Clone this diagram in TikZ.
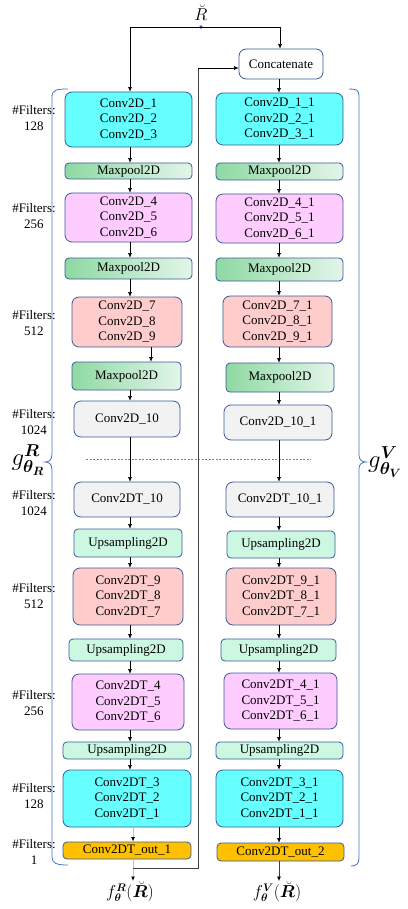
\documentclass[tikz,border=0pt]{standalone}
\usepackage{amsmath}
\usepackage{bm}
\usepackage[no-math]{fontspec}
\setmainfont{Liberation Serif}
\usetikzlibrary{arrows.meta}
\definecolor{bordc}{HTML}{3A5A98}
\definecolor{bracec}{HTML}{4472C4}
\definecolor{cyanc}{HTML}{66FFFF}
\definecolor{pinkc}{HTML}{FFCCFF}
\definecolor{salmc}{HTML}{FFCCCC}
\definecolor{grayc}{HTML}{F2F2F2}
\definecolor{mintc}{HTML}{CCF8E2}
\definecolor{orc}{HTML}{FFC000}
\definecolor{mpdark}{HTML}{8ED9A2}
\definecolor{mplight}{HTML}{E3F5EA}
\definecolor{loopc}{HTML}{3F3F3F}
\definecolor{lgray}{HTML}{BFBFBF}
\tikzset{
  blk/.style={draw=bordc, line width=0.8pt, rounded corners=7pt, align=center, inner sep=0pt, font=\fontsize{13}{15.5}\selectfont},
  big/.style={blk, fill=#1},
  mpool/.style={blk, rounded corners=4pt, left color=mpdark, right color=mplight},
  ups/.style={blk, rounded corners=4pt, fill=mintc},
  outb/.style={blk, rounded corners=4pt, fill=orc},
  arr/.style={-{Latex[length=4.5pt,width=4pt]}, line width=0.5pt, black},
  garr/.style={-{Latex[length=4.5pt,width=4pt,color=black]}, line width=0.9pt, lgray},
  darr/.style={-{Latex[length=4.5pt,width=4pt,color=black]}, line width=0.7pt, loopc},
  loopl/.style={line width=1pt, loopc},
  filt/.style={align=center, font=\fontsize{13}{16}\selectfont, inner sep=0pt},
  brc/.style={draw=bracec, line width=0.8pt},
  glab/.style={inner sep=0pt, font=\fontsize{26}{30}\selectfont},
  flab/.style={inner sep=0pt, font=\fontsize{16}{19}\selectfont},
}
\begin{document}
\begin{tikzpicture}[x=1pt, y=-1pt]
\useasboundingbox (0,0) rectangle (407,909);
% columns
\coordinate (xL) at (130,0);
\coordinate (xL2) at (151,0);
\coordinate (xG) at (133,0);
\coordinate (xR) at (279,0);
% top input
\node[anchor=base, inner sep=0pt, font=\fontsize{19}{22}\selectfont] (Rt) at (201,21) {$\breve{R}$};
\coordinate (split) at (201,27);
\coordinate (tl) at (130,27);
\coordinate (tr) at (280,27);
% left column
\node[big=cyanc, minimum width=127pt, minimum height=55pt] (c1) at (128.5,119.5) {Conv2D\_1\\Conv2D\_2\\Conv2D\_3};
\node[mpool, minimum width=127pt, minimum height=16pt] (mp1) at (128.5,171) {Maxpool2D};
\node[big=pinkc, minimum width=127pt, minimum height=49pt] (c4) at (128.5,217.5) {Conv2D\_4\\Conv2D\_5\\Conv2D\_6};
\node[mpool, minimum width=127pt, minimum height=21pt] (mp2) at (128.5,268.5) {Maxpool2D};
\node[big=salmc, minimum width=110pt, minimum height=50pt] (c7) at (127,322) {Conv2D\_7\\Conv2D\_8\\Conv2D\_9};
\node[mpool, minimum width=109pt, minimum height=28pt] (mp3) at (126.5,376) {Maxpool2D};
\node[big=grayc, minimum width=106pt, minimum height=36pt] (c10) at (127,419) {Conv2D\_10};
\node[big=grayc, minimum width=106pt, minimum height=35pt] (t10) at (127,499.5) {Conv2DT\_10};
\node[ups, minimum width=108pt, minimum height=28pt] (up1) at (128,543) {Upsampling2D};
\node[big=salmc, minimum width=110pt, minimum height=57pt] (t9) at (128,596.5) {Conv2DT\_9\\Conv2DT\_8\\Conv2DT\_7};
\node[ups, minimum width=114pt, minimum height=22pt] (up2) at (126,650) {Upsampling2D};
\node[big=pinkc, minimum width=112pt, minimum height=56pt] (t4) at (128,702) {Conv2DT\_4\\Conv2DT\_5\\Conv2DT\_6};
\node[ups, minimum width=128pt, minimum height=17pt] (up3) at (127,750.5) {Upsampling2D};
\node[big=cyanc, minimum width=128pt, minimum height=57pt] (t3) at (127,798.5) {Conv2DT\_3\\Conv2DT\_2\\Conv2DT\_1};
\node[outb, minimum width=128pt, minimum height=17pt] (out1) at (127,850.5) {Conv2DT\_out\_1};
% right column
\node[big=white, minimum width=84pt, minimum height=30pt] (concat) at (281,64) {Concatenate};
\node[big=cyanc, minimum width=127pt, minimum height=52pt] (r1) at (279.5,119) {Conv2D\_1\_1\\Conv2D\_2\_1\\Conv2D\_3\_1};
\node[mpool, minimum width=127pt, minimum height=17pt] (rmp1) at (279.5,171.5) {Maxpool2D};
\node[big=pinkc, minimum width=127pt, minimum height=49pt] (r4) at (279.5,218.5) {Conv2D\_4\_1\\Conv2D\_5\_1\\Conv2D\_6\_1};
\node[mpool, minimum width=127pt, minimum height=23pt] (rmp2) at (279.5,269.5) {Maxpool2D};
\node[big=salmc, minimum width=109pt, minimum height=51pt] (r7) at (277.5,321.5) {Conv2D\_7\_1\\Conv2D\_8\_1\\Conv2D\_9\_1};
\node[mpool, minimum width=108pt, minimum height=29pt] (rmp3) at (280,377.5) {Maxpool2D};
\node[big=grayc, minimum width=108pt, minimum height=35pt] (r10) at (278,422.5) {Conv2D\_10\_1};
\node[big=grayc, minimum width=108pt, minimum height=35pt] (rt10) at (280,499.5) {Conv2DT\_10\_1};
\node[ups, minimum width=108pt, minimum height=27pt] (rup1) at (281,544.5) {Upsampling2D};
\node[big=salmc, minimum width=110pt, minimum height=57pt] (rt9) at (281,596.5) {Conv2DT\_9\_1\\Conv2DT\_8\_1\\Conv2DT\_7\_1};
\node[ups, minimum width=115pt, minimum height=22pt] (rup2) at (278.5,650) {Upsampling2D};
\node[big=pinkc, minimum width=113pt, minimum height=56pt] (rt4) at (280.5,701) {Conv2DT\_4\_1\\Conv2DT\_5\_1\\Conv2DT\_6\_1};
\node[ups, minimum width=127pt, minimum height=17pt] (rup3) at (279.5,750.5) {Upsampling2D};
\node[big=cyanc, minimum width=127pt, minimum height=57pt] (rt3) at (279.5,798.5) {Conv2DT\_3\_1\\Conv2DT\_2\_1\\Conv2DT\_1\_1};
\node[outb, minimum width=127pt, minimum height=18pt] (out2) at (280.5,852) {Conv2DT\_out\_2};
% output labels
\node[flab, anchor=north] (fR) at (130,881) {$f^{\bm R}_{\bm\theta}(\breve{\bm R})$};
\node[flab, anchor=north] (fV) at (277,881) {$f^{\bm V}_{\bm\theta}(\breve{\bm R})$};
% filters labels
\node[filt] (f1) at (34,118) {\#Filters:\\128};
\node[filt] (f2) at (34,216) {\#Filters:\\256};
\node[filt] (f3) at (34,323) {\#Filters:\\512};
\node[filt] (f4) at (34,422) {\#Filters:\\1024};
\node[filt] (f5) at (34,503) {\#Filters:\\1024};
\node[filt] (f6) at (34,596) {\#Filters:\\512};
\node[filt] (f7) at (34,703) {\#Filters:\\256};
\node[filt] (f8) at (34,796) {\#Filters:\\128};
\node[filt] (f9) at (34,852) {\#Filters:\\1};
% brace labels
\node[glab] (gR) at (28,460) {$g^{\bm R}_{\bm\theta_{\bm R}}$};
\node[glab, anchor=west] (gV) at (368,462) {$g^{\bm V}_{\bm\theta_{\bm V}}$};
% braces
\draw[brc] (68,89) .. controls (56,89) and (52,90) .. (52,97) -- (52,454) .. controls (52,460) and (49,462) .. (45,462) .. controls (49,462) and (52,464) .. (52,470) -- (52,857) .. controls (52,863) and (56,865) .. (68,865);
\draw[brc] (349,89) .. controls (356,89) and (359,90) .. (359,96) -- (359,455) .. controls (359,460) and (362,462) .. (366,462) .. controls (362,462) and (359,464) .. (359,469) -- (359,858) .. controls (359,864) and (356,866) .. (351,866);
% dashed separator
\coordinate (dl) at (86,459);
\coordinate (dr) at (311,459);
\draw[dashed, dash pattern=on 2pt off 1.5pt, line width=0.4pt, gray] (dl) -- (dr);
% top connectors
\fill[bordc] (split) circle (1.8pt);
\draw[arr] (split) -- (tl) -- (c1.north -| tl);
\draw[arr] (split) -- (tr) -- (concat.north -| tr);
% left connectors
\draw[arr] (c1.south -| xL) -- (mp1.north -| xL);
\draw[arr] (mp1.south -| xL) -- (c4.north -| xL);
\draw[arr] (c4.south -| xL) -- (mp2.north -| xL);
\draw[arr] (mp2.south -| xL) -- (c7.north -| xL);
\draw[arr] (c7.south -| xL2) -- (mp3.north -| xL2);
\draw[arr] (mp3.south -| xL) -- (c10.north -| xL);
\draw[arr] (c10.south -| xL) -- (t10.north -| xL);
\draw[arr] (t10.south -| xL) -- (up1.north -| xL);
\draw[arr] (up1.south -| xL) -- (t9.north -| xL);
\draw[arr] (t9.south -| xL) -- (up2.north -| xL);
\draw[arr] (up2.south -| xL) -- (t4.north -| xL);
\draw[arr] (t4.south -| xL) -- (up3.north -| xL);
\draw[arr] (up3.south -| xL) -- (t3.north -| xL);
\draw[garr] (t3.south -| xG) -- (out1.north -| xG);
\draw[garr] (out1.south -| xG) -- (fR.north -| xG);
% right connectors
\draw[arr] (concat.south -| xR) -- (r1.north -| xR);
\draw[arr] (r1.south -| xR) -- (rmp1.north -| xR);
\draw[arr] (rmp1.south -| xR) -- (r4.north -| xR);
\draw[arr] (r4.south -| xR) -- (rmp2.north -| xR);
\draw[arr] (rmp2.south -| xR) -- (r7.north -| xR);
\draw[arr] (r7.south -| xR) -- (rmp3.north -| xR);
\draw[arr] (rmp3.south -| xR) -- (r10.north -| xR);
\draw[arr] (r10.south -| xR) -- (rt10.north -| xR);
\draw[arr] (rt10.south -| xR) -- (rup1.north -| xR);
\draw[arr] (rup1.south -| xR) -- (rt9.north -| xR);
\draw[arr] (rt9.south -| xR) -- (rup2.north -| xR);
\draw[arr] (rup2.south -| xR) -- (rt4.north -| xR);
\draw[arr] (rt4.south -| xR) -- (rup3.north -| xR);
\draw[arr] (rup3.south -| xR) -- (rt3.north -| xR);
\draw[arr] (rt3.south -| xR) -- (out2.north -| xR);
\draw[darr] (out2.south -| xR) -- (fV.north -| xR);
% feedback loop
\coordinate (J) at (133,868);
\coordinate (lb) at (198,868);
\coordinate (lt) at (198,68);
\draw[loopl] (J) -- (lb) -- (lt);
\draw[arr] (lt) -- (concat.west |- lt);
\end{tikzpicture}
\end{document}
